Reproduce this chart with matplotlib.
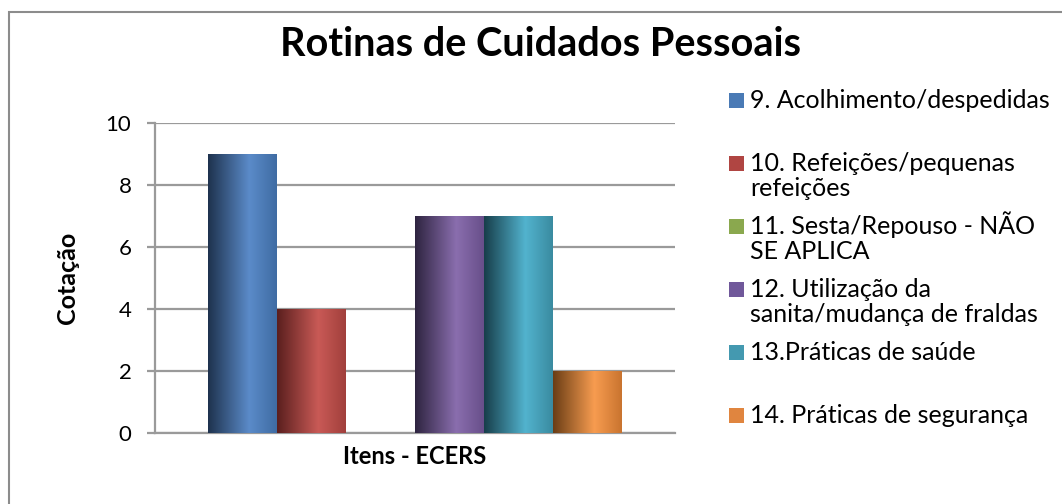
import numpy as np
import matplotlib
matplotlib.use("Agg")
from matplotlib import pyplot as plt
from matplotlib.colors import LinearSegmentedColormap
from matplotlib.patches import Rectangle

plt.rcParams['font.family'] = ['Lato', 'DejaVu Sans']

# data
series_labels = [
    "9. Acolhimento/despedidas",
    "10. Refeições/pequenas\nrefeições",
    "11. Sesta/Repouso - NÃO\nSE APLICA",
    "12. Utilização da\nsanita/mudança de fraldas",
    "13.Práticas de saúde",
    "14. Práticas de segurança",
]
values = [9, 4, 0, 7, 7, 2]
category = "Itens - ECERS"
yticks = [0, 2, 4, 6, 8, 10]

# shading for each bar: dark left edge, light middle, medium right edge
shades = [
    ("#1e324d", "#5b8bc9", "#3f6ca3"),
    ("#5a1f1e", "#c95a56", "#a13f3c"),
    ("#3f5222", "#a4c563", "#7f9b45"),
    ("#2e2440", "#8a6eae", "#684f8a"),
    ("#173e4a", "#52b3ce", "#3a8ba0"),
    ("#6a3d15", "#f79c50", "#c9742f"),
]
swatch_colors = ["#4a7ab5", "#b04542", "#8aa84e", "#70589a", "#4499b0", "#e0853f"]

W, H = 1062, 504
fig = plt.figure(figsize=(W / 100, H / 100), dpi=100)

# outer chart frame (only left/top visible in the crop)
fig.patches.append(Rectangle((9 / W, -0.2), 2.0, 1.2 - 12 / H, transform=fig.transFigure,
                             fill=False, edgecolor="#8c8c8c", linewidth=1.5, zorder=0))

ax = fig.add_axes([155 / W, 71 / H, 520 / W, 310 / H])

n = len(values)
bw = 0.796 / n
xpos = [(i - (n - 1) / 2) * bw for i in range(n)]
bars = ax.bar(xpos, values, width=bw, color="none", edgecolor="none", zorder=3)

grad = np.linspace(0, 1, 256).reshape(1, -1)
for bar, sh in zip(bars, shades):
    if bar.get_height() <= 0:
        continue
    cmap = LinearSegmentedColormap.from_list("g", [(0, sh[0]), (0.6, sh[1]), (1, sh[2])])
    x0 = bar.get_x()
    im = ax.imshow(grad, extent=(x0, x0 + bar.get_width(), 0, bar.get_height()),
                   cmap=cmap, aspect="auto", zorder=3)
    im.set_clip_path(bar)

ax.set_xlim(-0.5, 0.5)
ax.set_ylim(0, 10)

ax.set_yticks(yticks)
ax.set_yticklabels([str(t) for t in yticks], fontsize=16)
ax.set_xticks([])
ax.yaxis.grid(True, color="#9a9a9a", linewidth=1.6)
ax.set_axisbelow(True)
for s in ["top", "right"]:
    ax.spines[s].set_visible(False)
ax.spines["left"].set_color("#9a9a9a")
ax.spines["left"].set_linewidth(1.6)
ax.spines["bottom"].set_color("#9a9a9a")
ax.spines["bottom"].set_linewidth(1.6)
ax.tick_params(axis="y", length=6, width=1.6, color="#9a9a9a", pad=11)

fig.text(67 / W, 1 - 278 / H, "Cotação", rotation=90, ha="center", va="center",
         fontsize=18, fontweight="bold")
fig.text(415 / W, 1 - 456 / H, category, ha="center", va="center",
         fontsize=17, fontweight="bold")

fig.text(540 / W, 1 - 45 / H, "Rotinas de Cuidados Pessoais", ha="center", va="center",
         fontsize=28.5, fontweight="bold")

# legend, one slot per series
base0, step = 108, 63
for i, (lab, c) in enumerate(zip(series_labels, swatch_colors)):
    yb = base0 + i * step
    fig.patches.append(Rectangle((729 / W, 1 - yb / H), 15 / W, 15 / H,
                                 transform=fig.transFigure, facecolor=c, edgecolor="none"))
    lines = lab.split("\n")
    for j, line in enumerate(lines):
        fig.text(750 / W, 1 - (yb + j * 25) / H, line, ha="left", va="baseline",
                 fontsize=18)

fig.savefig("out.png", dpi=100)
